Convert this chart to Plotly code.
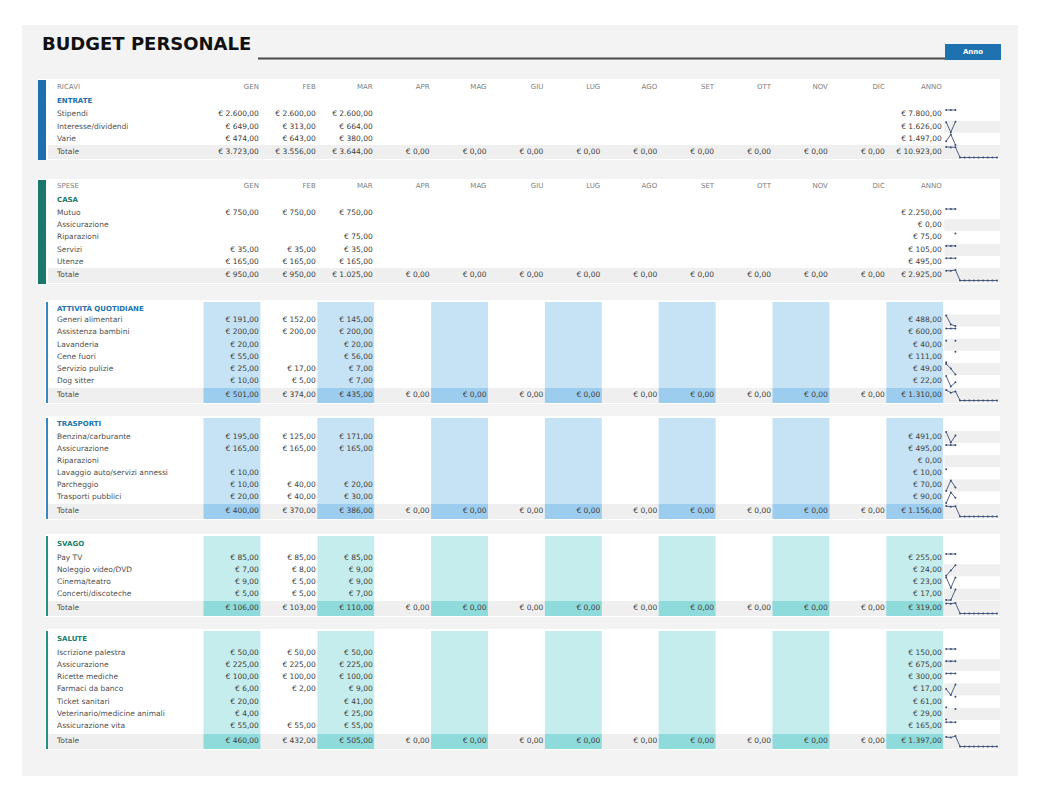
import plotly.graph_objects as go

# ---------------- DATA ----------------
months = ["GEN", "FEB", "MAR", "APR", "MAG", "GIU", "LUG", "AGO", "SET", "OTT", "NOV", "DIC"]
year_label = "ANNO"
total_label = "Totale"

entrate_items = ["Stipendi", "Interesse/dividendi", "Varie"]
entrate_values = [[2600, 2600, 2600], [649, 313, 664], [474, 643, 380]]

casa_items = ["Mutuo", "Assicurazione", "Riparazioni", "Servizi", "Utenze"]
casa_values = [[750, 750, 750], [None, None, None], [None, None, 75], [35, 35, 35], [165, 165, 165]]

attivita_items = ["Generi alimentari", "Assistenza bambini", "Lavanderia", "Cene fuori",
                  "Servizio pulizie", "Dog sitter"]
attivita_values = [[191, 152, 145], [200, 200, 200], [20, None, 20], [55, None, 56],
                   [25, 17, 7], [10, 5, 7]]

trasporti_items = ["Benzina/carburante", "Assicurazione", "Riparazioni",
                   "Lavaggio auto/servizi annessi", "Parcheggio", "Trasporti pubblici"]
trasporti_values = [[195, 125, 171], [165, 165, 165], [None, None, None], [10, None, None],
                    [10, 40, 20], [20, 40, 30]]

svago_items = ["Pay TV", "Noleggio video/DVD", "Cinema/teatro", "Concerti/discoteche"]
svago_values = [[85, 85, 85], [7, 8, 9], [9, 5, 9], [5, 5, 7]]

salute_items = ["Iscrizione palestra", "Assicurazione", "Ricette mediche", "Farmaci da banco",
                "Ticket sanitari", "Veterinario/medicine animali", "Assicurazione vita"]
salute_values = [[50, 50, 50], [225, 225, 225], [100, 100, 100], [6, 2, 9], [20, None, 41],
                 [4, None, 25], [55, 55, 55]]

# ---------------- LAYOUT / STYLE ----------------
W, H = 1038, 800
PAGE_MARGIN = 8          # default body margin of the html page
FONT = "DejaVu Sans"
BLUE = "#1f6fae"
TEAL = "#19786b"
BLUE_L, BLUE_D = "#c6e3f6", "#9dcdee"
TEAL_L, TEAL_D = "#c6eded", "#8fdbdb"
COL0, COLW = 203.5, 56.9
SPARK_X1 = 1000


def col_left(i):
    return COL0 + i * COLW


def col_right(i):
    return COL0 + (i + 1) * COLW


sections = [
    dict(items=entrate_items, values=entrate_values, title="ENTRATE", header="RICAVI",
         accent=BLUE, head=BLUE, bar="thick", bx=38, top=79, bottom=160, header_y=87,
         title_y=101, item_y0=114, step=12.7, total_y=152, fill=None, band=[1]),
    dict(items=casa_items, values=casa_values, title="CASA", header="SPESE",
         accent=TEAL, head=TEAL, bar="thick", bx=38, top=179, bottom=284, header_y=186,
         title_y=200, item_y0=213, step=12.3, total_y=275, fill=None, band=[1, 3]),
    dict(items=attivita_items, values=attivita_values, title="ATTIVITÀ QUOTIDIANE", header=None,
         accent="#3a86c0", head="#2473b0", bar="thin", bx=45, top=300, bottom=404, header_y=None,
         title_y=309, item_y0=320.5, step=12.1, total_y=395, fill=(BLUE_L, BLUE_D), band=[0, 2, 4]),
    dict(items=trasporti_items, values=trasporti_values, title="TRASPORTI", header=None,
         accent="#3a86c0", head="#2473b0", bar="thin", bx=45, top=416, bottom=520, header_y=None,
         title_y=424, item_y0=437, step=12.1, total_y=511, fill=(BLUE_L, BLUE_D), band=[0, 2, 4]),
    dict(items=svago_items, values=svago_values, title="SVAGO", header=None,
         accent="#22917f", head="#17806f", bar="thin", bx=45, top=534, bottom=617, header_y=None,
         title_y=544, item_y0=558, step=12.2, total_y=608, fill=(TEAL_L, TEAL_D), band=[1, 3]),
    dict(items=salute_items, values=salute_values, title="SALUTE", header=None,
         accent="#22917f", head="#17806f", bar="thin", bx=45, top=629, bottom=750, header_y=None,
         title_y=639, item_y0=653, step=12.2, total_y=741, fill=(TEAL_L, TEAL_D), band=[1, 3, 5]),
]


def eur(v):
    s = f"{v:,.2f}".replace(",", "X").replace(".", ",").replace("X", ".")
    return "€ " + s


shapes = []


def rect(x0, y0, x1, y1, color, layer="below"):
    shapes.append(dict(type="rect", xref="x", yref="y", x0=x0, y0=y0, x1=x1, y1=y1,
                       fillcolor=color, line=dict(width=0), layer=layer))


# background panel
rect(22, 25, 1018, 776, "#f3f3f3")

lab_x, lab_y, lab_t = [], [], []
val_x, val_y, val_t = [], [], []
hdr_x, hdr_y, hdr_t, hdr_pos = [], [], [], []
head_x, head_y, head_t, head_c = [], [], [], []
sp_x, sp_y = [], []

SP_X0 = col_right(12)
SP_STEP = (SPARK_X1 - SP_X0 - 6) / 11


def sparkline(vals, yc):
    pts = [v for v in vals if v is not None]
    if not pts:
        return
    lo, hi = min(pts), max(pts)
    for i, v in enumerate(vals):
        sp_x.append(SP_X0 + 3 + i * SP_STEP)
        if v is None:
            sp_y.append(None)
        elif hi == lo:
            sp_y.append(yc - 4)
        else:
            sp_y.append(yc + 5.5 - (v - lo) / (hi - lo) * 10.5)
    sp_x.append(None)
    sp_y.append(None)


for s in sections:
    top, bottom, bx = s["top"], s["bottom"], s["bx"]
    rect(bx, top, SPARK_X1, bottom, "white")
    if s["bar"] == "thick":
        rect(bx, top + 1, bx + 8, bottom, s["accent"])
        left_in = bx + 10
    else:
        rect(bx + 1, top + 2, bx + 3, bottom - 1, s["accent"])
        left_in = bx + 3
    band_top = s["total_y"] - 7
    rect(left_in, band_top, SPARK_X1, bottom - 1, "#efefef")
    if s["fill"]:
        light, dark = s["fill"]
        for ci in list(range(0, 12, 2)) + [12]:
            rect(col_left(ci), top + 2, col_right(ci), band_top, light)
            rect(col_left(ci), band_top, col_right(ci), bottom - 1, dark)
    item_ys = [s["item_y0"] + k * s["step"] for k in range(len(s["items"]))]
    for k in s["band"]:
        rect(SP_X0 + 1, item_ys[k] - 6, SPARK_X1, item_ys[k] + 6, "#efefef")

    # header row
    if s["header"]:
        hdr_x.append(57); hdr_y.append(s["header_y"]); hdr_t.append(s["header"]); hdr_pos.append("middle right")
        for ci, m in enumerate(months + [year_label]):
            hdr_x.append(col_right(ci) - 1.5); hdr_y.append(s["header_y"]); hdr_t.append(m)
            hdr_pos.append("middle left")
    # section heading
    head_x.append(57); head_y.append(s["title_y"]); head_t.append("<b>" + s["title"] + "</b>")
    head_c.append(s["head"])

    # items
    totals = [0] * 12
    for name, vals, yc in zip(s["items"], s["values"], item_ys):
        full = list(vals) + [None] * (12 - len(vals))
        lab_x.append(57); lab_y.append(yc); lab_t.append(name)
        for ci, v in enumerate(full):
            if v is not None:
                totals[ci] += v
                val_x.append(col_right(ci) - 1.5); val_y.append(yc); val_t.append(eur(v))
        year = sum(v for v in full if v is not None)
        val_x.append(col_right(12) - 1.5); val_y.append(yc); val_t.append(eur(year))
        sparkline(full, yc)
    # total row
    ty = s["total_y"]
    lab_x.append(57); lab_y.append(ty); lab_t.append(total_label)
    for ci, v in enumerate(totals):
        val_x.append(col_right(ci) - 1.5); val_y.append(ty); val_t.append(eur(v))
    val_x.append(col_right(12) - 1.5); val_y.append(ty); val_t.append(eur(sum(totals)))
    sparkline(totals, ty)

# title underline and button
shapes.append(dict(type="line", xref="x", yref="y", x0=258, x1=945, y0=58.5, y1=58.5,
                   line=dict(color="#4a4a4a", width=2), layer="below"))
rect(945, 44, 1001, 60, "#1f72b0")

fig = go.Figure()
fig.add_trace(go.Scatter(x=lab_x, y=lab_y, text=lab_t, mode="text", textposition="middle right",
                         textfont=dict(family=FONT, size=7.5, color="#505050"), hoverinfo="skip"))
fig.add_trace(go.Scatter(x=val_x, y=val_y, text=val_t, mode="text", textposition="middle left",
                         textfont=dict(family=FONT, size=7.5, color="#404040"), hoverinfo="skip"))
fig.add_trace(go.Scatter(x=hdr_x, y=hdr_y, text=hdr_t, mode="text", textposition=hdr_pos,
                         textfont=dict(family=FONT, size=7, color="#808080"), hoverinfo="skip"))
fig.add_trace(go.Scatter(x=head_x, y=head_y, text=head_t, mode="text", textposition="middle right",
                         textfont=dict(family=FONT, size=7, color=head_c), hoverinfo="skip"))
fig.add_trace(go.Scatter(x=sp_x, y=sp_y, mode="lines+markers", connectgaps=False,
                         line=dict(color="#3c4f78", width=0.9),
                         marker=dict(color="#3c4f78", size=2), hoverinfo="skip"))
fig.add_trace(go.Scatter(x=[42], y=[45], text=["<b>BUDGET PERSONALE</b>"], mode="text",
                         textposition="middle right",
                         textfont=dict(family=FONT, size=18, color="#111111"), hoverinfo="skip"))
fig.add_trace(go.Scatter(x=[973], y=[52], text=["<b>Anno</b>"], mode="text",
                         textposition="middle center",
                         textfont=dict(family=FONT, size=7, color="white"), hoverinfo="skip"))

fig.update_layout(
    width=W - 2 * PAGE_MARGIN, height=H - 2 * PAGE_MARGIN, margin=dict(l=0, r=0, t=0, b=0),
    paper_bgcolor="white", plot_bgcolor="white", showlegend=False, shapes=shapes,
    xaxis=dict(range=[PAGE_MARGIN, W - PAGE_MARGIN], visible=False, fixedrange=True),
    yaxis=dict(range=[H - PAGE_MARGIN, PAGE_MARGIN], visible=False, fixedrange=True),
)
fig.write_html("out.html")
